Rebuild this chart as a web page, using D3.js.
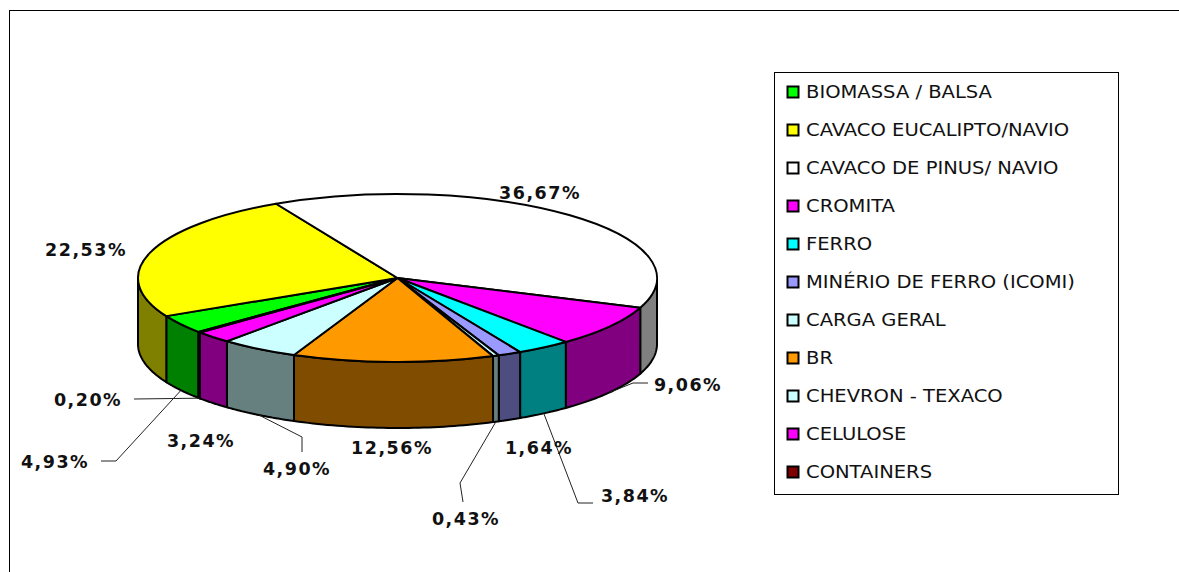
<!DOCTYPE html>
<html>
<head>
<meta charset="utf-8">
<script src="https://cdn.jsdelivr.net/npm/d3@7"></script>
<style>
  html, body { margin: 0; background: #fff; }
  svg { display: block; }
  .slice { vector-effect: non-scaling-stroke; }
  text { font-family: "DejaVu Sans", sans-serif; fill: #000; }
  .legend_label { font-size: 17px; fill: #111; }
  .pct { font-size: 17.5px; font-weight: bold; letter-spacing: 1.5px; text-anchor: middle; fill: #111; }
</style>
</head>
<body>
<div id="chart"></div>
<script>
var categories = ["BIOMASSA / BALSA", "CAVACO EUCALIPTO/NAVIO", "CAVACO DE PINUS/ NAVIO", "CROMITA", "FERRO",
  "MINÉRIO DE FERRO (ICOMI)", "CARGA GERAL", "BR", "CHEVRON - TEXACO", "CELULOSE", "CONTAINERS"];
var shares = [4.93, 22.53, 36.67, 9.06, 3.84, 1.64, 0.43, 12.56, 4.90, 3.24, 0.20];
var share_labels = ["4,93%", "22,53%", "36,67%", "9,06%", "3,84%", "1,64%", "0,43%", "12,56%", "4,90%", "3,24%", "0,20%"];
var top_colors = ["#00ff00", "#ffff00", "#ffffff", "#ff00ff", "#00ffff", "#9999ff", "#ccffff", "#ff9900", "#ccffff", "#ff00ff", "#800000"];
var side_colors = ["#008000", "#808000", "#808080", "#800080", "#008080", "#4d4d80", "#668080", "#804d00", "#668080", "#800080", "#800000"];

// label centres, and the elbow points of the leader lines where the label has one
var label_x = [55, 86, 540, 688, 635, 539, 466, 392, 297, 201, 88];
var label_y = [461, 249, 192, 384, 495, 447, 518, 447, 468, 440, 399];
var leader_points = [
  [[116, 461], [101, 461]], null, null,
  [[633, 383], [648, 383]],
  [[578, 503], [593, 503]], null,
  [[460, 483], [463, 502]], null,
  [[302, 437], [302, 452]], null,
  [[134, 399]]
];

// the picture is a perspective view, so shares do not land evenly on the rim:
// cumulative share -> clockwise degrees from the first slice's edge
var rim_share = [0, 4.93, 27.46, 64.13, 79.1, 96.56, 100];
var rim_degrees = [0, 12.9, 102, 240.6, 288.3, 351, 360];

var width = 1179, height = 572;
var cx = 397.5, cy = 278, rx = 259.5, ry = 84, depth = 66;
var start_degrees = 230.1;

var svg = d3.select("#chart").append("svg").attr("width", width).attr("height", height);

// outer chart frame
svg.append("rect").attr("x", 9.5).attr("y", 10.5).attr("width", 1190).attr("height", 590)
  .attr("fill", "none").attr("stroke", "#000");

var rim_angle = d3.scaleLinear()
  .domain(rim_share.map(function (d) { return d / 100 * 2 * Math.PI; }))
  .range(rim_degrees.map(function (d) { return (d + start_degrees) * Math.PI / 180; }));

var slices = d3.pie().sort(null).value(function (d) { return d; })(shares).map(function (d, i) {
  return {
    index: i,
    startAngle: rim_angle(d.startAngle),
    endAngle: rim_angle(d.endAngle)
  };
});

function rim_x (a) { return cx + rx * Math.sin(a); }
function rim_y (a) { return cy - ry * Math.cos(a); }

var line = d3.line();

// the wall of a slice only shows where the rim runs along the front of the pie
function side_path (d) {
  var front_start = Math.PI / 2, front_end = 3 * Math.PI / 2;
  var a0 = Math.max(d.startAngle, front_start), a1 = Math.min(d.endAngle, front_end);
  // pinus crosses 360, its wall is the part after the turn
  if (d.endAngle > 2 * Math.PI) {
    a0 = Math.max(d.startAngle, 2 * Math.PI + front_start);
    a1 = Math.min(d.endAngle, 2 * Math.PI + front_end);
  }
  if (a1 <= a0) return null;
  var n = 40;
  var angles = d3.range(n + 1).map(function (i) { return a0 + (a1 - a0) * i / n; });
  var upper = angles.map(function (a) { return [rim_x(a), rim_y(a)]; });
  var lower = angles.slice().reverse().map(function (a) { return [rim_x(a), rim_y(a) + depth]; });
  return line(upper.concat(lower)) + "Z";
}

svg.append("g").selectAll("path")
  .data(slices.filter(function (d) { return side_path(d); }))
  .join("path")
  .attr("d", side_path)
  .attr("fill", function (d) { return side_colors[d.index]; })
  .attr("stroke", "#000")
  .attr("stroke-width", 2)
  .attr("stroke-linejoin", "round");

var arc = d3.arc().innerRadius(0).outerRadius(rx);

svg.append("g")
  .attr("transform", "translate(" + cx + "," + cy + ") scale(1," + (ry / rx) + ")")
  .selectAll("path")
  .data(slices)
  .join("path")
  .attr("class", "slice")
  .attr("d", arc)
  .attr("fill", function (d) { return top_colors[d.index]; })
  .attr("stroke", "#000")
  .attr("stroke-width", 2)
  .attr("stroke-linejoin", "round");

// leader lines start on the lower rim at the middle of the slice
svg.append("g").selectAll("path")
  .data(slices.filter(function (d) { return leader_points[d.index]; }))
  .join("path")
  .attr("d", function (d) {
    var mid = (d.startAngle + d.endAngle) / 2;
    return line([[rim_x(mid), rim_y(mid) + depth]].concat(leader_points[d.index]));
  })
  .attr("fill", "none")
  .attr("stroke", "#222")
  .attr("stroke-width", 1);

svg.append("g").selectAll("text")
  .data(share_labels)
  .join("text")
  .attr("class", "pct")
  .attr("x", function (d, i) { return label_x[i]; })
  .attr("y", function (d, i) { return label_y[i] + 6.5; })
  .text(function (d) { return d; });

// legend
var legend_y = d3.scalePoint().domain(categories).range([91.5, 471.5]);

svg.append("rect").attr("x", 774.5).attr("y", 72.5).attr("width", 344).attr("height", 422)
  .attr("fill", "#fff").attr("stroke", "#000");

var legend = svg.append("g").selectAll("g")
  .data(categories)
  .join("g")
  .attr("transform", function (d) { return "translate(0," + legend_y(d) + ")"; });

legend.append("rect")
  .attr("x", 787.5).attr("y", -5).attr("width", 11).attr("height", 11)
  .attr("fill", function (d, i) { return top_colors[i]; })
  .attr("stroke", "#000")
  .attr("stroke-width", 2);

// the reference glyphs are wider than DejaVu, stretch them a little
legend.append("text")
  .attr("class", "legend_label")
  .attr("transform", "translate(806,6) scale(1.15,1)")
  .text(function (d) { return d; });
</script>
</body>
</html>
